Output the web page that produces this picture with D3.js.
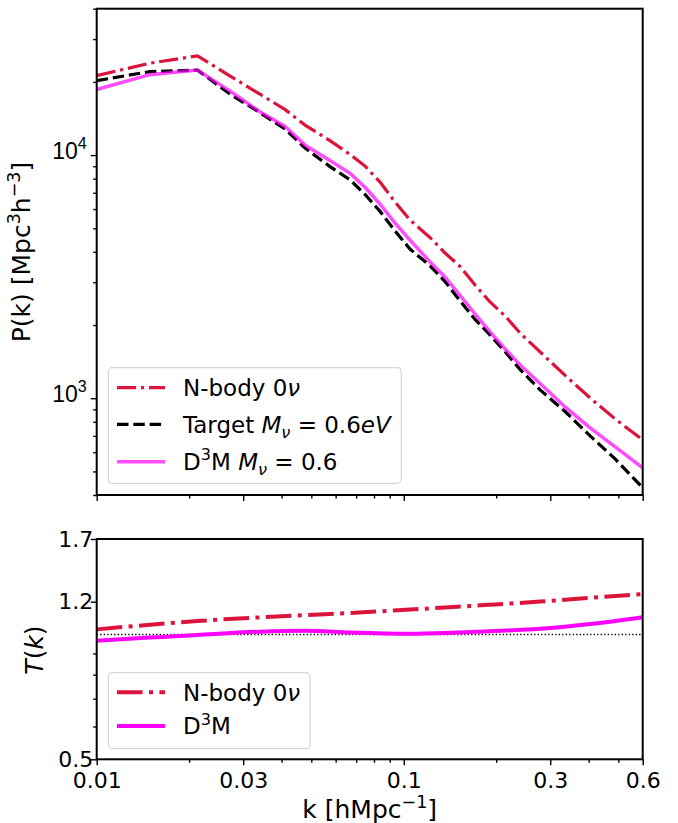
<!DOCTYPE html>
<html>
<head>
<meta charset="utf-8">
<script src="https://cdn.jsdelivr.net/npm/d3@7"></script>
<style>
body { margin: 0; background: #fff; }
svg { display: block; font-family: "DejaVu Sans", sans-serif; }
</style>
</head>
<body>
<div id="chart"></div>
<script>
// power spectrum
var kTop = [0.01, 0.0149, 0.0213, 0.0272, 0.034, 0.0411, 0.0477, 0.0575, 0.0669, 0.0748, 0.0837, 0.0937, 0.1048,
            0.1218, 0.1363, 0.1526, 0.1707, 0.191, 0.2138, 0.2392, 0.278, 0.3353, 0.4045, 0.4879, 0.6];
var pNbody = [21220, 23880, 25590, 21120, 17810, 15380, 13280, 11470, 10050, 9010, 7745, 6410, 5405,
              4580, 3956, 3481, 2921, 2488, 2180, 1855, 1550, 1241, 1003, 822, 674];
var pTarget = [20240, 22040, 22360, 17810, 14950, 12790, 10690, 8970, 7909, 6888, 5870, 4871, 4108,
               3504, 3020, 2512, 2109, 1821, 1553, 1313, 1082, 882, 700, 563, 428];
var pD3M = [18620, 21420, 22360, 18330, 15070, 13100, 10990, 9493, 8410, 7375, 6289, 5254, 4473,
            3634, 3150, 2646, 2221, 1873, 1595, 1371, 1150, 921, 755, 631, 517];

// transfer function
var kBot = [0.01, 0.0149, 0.0213, 0.034, 0.0477, 0.0669, 0.1048, 0.1363, 0.191, 0.278, 0.4045, 0.6];
var tNbody = [1.029, 1.056, 1.078, 1.100, 1.114, 1.127, 1.149, 1.162, 1.180, 1.201, 1.226, 1.252];
var tD3M = [0.966, 0.983, 0.998, 1.016, 1.021, 1.011, 1.004, 1.008, 1.019, 1.032, 1.060, 1.101];

var xMajor = [0.01, 0.03, 0.1, 0.3, 0.6],
    xMinor = [0.02, 0.04, 0.05, 0.06, 0.07, 0.08, 0.09, 0.2, 0.4, 0.5];
var pMajor = [1e3, 1e4],
    pMinor = [400, 500, 600, 700, 800, 900, 2000, 3000, 4000, 5000, 6000, 7000, 8000, 9000, 20000, 30000, 40000];
var tMajor = [0.5, 1.2, 1.7],
    tMinor = [0.6, 0.7, 0.8, 0.9];

var crimson = '#dc143c', magenta = '#ff00ff';
var width = 678, height = 823;
var left = 96.7, right = 642.7;
var topY0 = 8.7, topY1 = 495, botY0 = 539, botY1 = 759.3;
var topTickFs = 23, botTickFs = 22, labelFs = 25, legFs = 23;

var svg = d3.select('#chart').append('svg').attr('width', width).attr('height', height);

var x = d3.scaleLog().domain([0.01, 0.6]).range([left, right]);
var yTop = d3.scaleLog().domain([400, 40000]).range([topY1, topY0]);
var yBot = d3.scaleLog().domain([0.5, 1.7]).range([botY1, botY0]);

// text with super/subscripts and italics
function rich(sel, parts, fs) {
    var shift = 0;
    parts.forEach(function(p) {
        var s = p[1] || '';
        var target = s.indexOf('sup') >= 0 ? -0.42 * fs : (s.indexOf('sub') >= 0 ? 0.22 * fs : 0);
        var t = sel.append('tspan').text(p[0])
            .attr('font-size', (target !== 0 ? 0.7 * fs : fs))
            .attr('font-style', s.indexOf('i') === 0 ? 'italic' : 'normal');
        if (target !== shift) t.attr('dy', target - shift);
        shift = target;
    });
}

function drawAxes(g, yScale, y0, y1, yMaj, yMin, showX, yFmt, fs) {
    var xa = g.append('g').attr('transform', 'translate(0,' + y1 + ')');
    xa.call(d3.axisBottom(x).tickValues(xMinor).tickSize(3.5).tickFormat(''));
    xa.append('g').call(d3.axisBottom(x).tickValues(xMajor).tickSize(6)
        .tickFormat(showX ? function(d) { return String(d); } : ''));
    var ya = g.append('g').attr('transform', 'translate(' + left + ',0)');
    ya.call(d3.axisLeft(yScale).tickValues(yMin).tickSize(3.5).tickFormat(''));
    ya.append('g').attr('class', 'ymaj').call(d3.axisLeft(yScale).tickValues(yMaj).tickSize(6).tickFormat(yFmt));
    g.selectAll('.domain').remove();
    g.selectAll('.tick line').attr('stroke', '#000').attr('stroke-width', 1.4);
    g.selectAll('.tick text').attr('font-size', fs).attr('fill', '#000').attr('font-family', '"DejaVu Sans", sans-serif');
    if (showX) xa.selectAll('.tick text').attr('y', 13).attr('dy', '0.71em');
    g.append('rect').attr('x', left).attr('y', y0).attr('width', right - left).attr('height', y1 - y0)
        .attr('fill', 'none').attr('stroke', '#000').attr('stroke-width', 2);
}

// ---- top panel
var gTop = svg.append('g');
var lineTop = function(vals) {
    return d3.line().x(function(d, i) { return x(kTop[i]); }).y(function(d) { return yTop(d); })(vals);
};
gTop.append('path').attr('d', lineTop(pNbody)).attr('fill', 'none').attr('stroke', crimson)
    .attr('stroke-width', 3.2).attr('stroke-dasharray', '19.2,4.8,3.2,4.8');
gTop.append('path').attr('d', lineTop(pTarget)).attr('fill', 'none').attr('stroke', '#000')
    .attr('stroke-width', 3.2).attr('stroke-dasharray', '11.5,4.8');
gTop.append('path').attr('d', lineTop(pD3M)).attr('fill', 'none').attr('stroke', magenta)
    .attr('stroke-opacity', 0.7).attr('stroke-width', 3.5).attr('stroke-linejoin', 'round');

drawAxes(gTop, yTop, topY0, topY1, pMajor, pMinor, false, '', topTickFs);
gTop.selectAll('.ymaj .tick').each(function(d) {
    var t = d3.select(this).append('text').attr('x', -10).attr('dy', '0.32em')
        .attr('text-anchor', 'end').attr('fill', '#000');
    rich(t, [['10'], [String(Math.round(Math.log10(d))), 'sup']], topTickFs);
});

// y label top
var yl = svg.append('text').attr('transform', 'translate(30,252) rotate(-90)')
    .attr('text-anchor', 'middle').attr('fill', '#000');
rich(yl, [['P(k) [Mpc'], ['3', 'sup'], ['h'], ['\u22123', 'sup'], [']']], labelFs);

function legend(g, x0, y0, w, h, rows) {
    g.append('rect').attr('x', x0).attr('y', y0).attr('width', w).attr('height', h).attr('rx', 4)
        .attr('fill', '#fff').attr('fill-opacity', 0.8).attr('stroke', '#d6d6d6').attr('stroke-width', 1.2);
    rows.forEach(function(r) {
        var ln = g.append('line').attr('x1', 117).attr('x2', 165).attr('y1', r.y).attr('y2', r.y)
            .attr('stroke', r.color).attr('stroke-width', r.w);
        if (r.dash) ln.attr('stroke-dasharray', r.dash);
        if (r.op) ln.attr('stroke-opacity', r.op);
        var t = g.append('text').attr('x', 183).attr('y', r.y + 0.36 * legFs).attr('fill', '#000');
        rich(t, r.text, legFs);
    });
}
legend(svg.append('g'), 108.3, 367.7, 293, 115.6, [
    { y: 387.7, color: crimson, w: 3.2, dash: '19.2,4.8,3.2,4.8', text: [['N-body 0'], ['\u03bd', 'i']] },
    { y: 424.3, color: '#000', w: 3.2, dash: '11.5,4.8',
      text: [['Target '], ['M', 'i'], ['\u03bd', 'isub'], [' = 0.6'], ['eV', 'i']] },
    { y: 461.7, color: magenta, w: 3.5, op: 0.7,
      text: [['D'], ['3', 'sup'], ['M '], ['M', 'i'], ['\u03bd', 'isub'], [' = 0.6']] }
]);

// ---- bottom panel
var gBot = svg.append('g');
var lineBot = function(vals) {
    return d3.line().curve(d3.curveMonotoneX)
        .x(function(d, i) { return x(kBot[i]); }).y(function(d) { return yBot(d); })(vals);
};
gBot.append('line').attr('x1', left).attr('x2', right).attr('y1', yBot(1)).attr('y2', yBot(1))
    .attr('stroke', '#000').attr('stroke-width', 1.3).attr('stroke-dasharray', '1.3,2.2');
gBot.append('path').attr('d', lineBot(tNbody)).attr('fill', 'none').attr('stroke', crimson)
    .attr('stroke-width', 4).attr('stroke-dasharray', '25.6,6.4,4,6.4');
gBot.append('path').attr('d', lineBot(tD3M)).attr('fill', 'none').attr('stroke', magenta)
    .attr('stroke-width', 4);

drawAxes(gBot, yBot, botY0, botY1, tMajor, tMinor, true, function(d) { return String(d); }, botTickFs);
gBot.selectAll('.ymaj .tick text').attr('x', -3.5);

var tl = svg.append('text').attr('transform', 'translate(43,650) rotate(-90)')
    .attr('text-anchor', 'middle').attr('fill', '#000');
rich(tl, [['T', 'i'], ['('], ['k', 'i'], [')']], labelFs);

var xl = svg.append('text').attr('x', (left + right) / 2).attr('y', 818).attr('text-anchor', 'middle').attr('fill', '#000');
rich(xl, [['k [hMpc'], ['\u22121', 'sup'], [']']], labelFs);

legend(svg.append('g'), 108.3, 672.7, 201.7, 76, [
    { y: 692.3, color: crimson, w: 4, dash: '25.6,6.4,4,6.4', text: [['N-body 0'], ['\u03bd', 'i']] },
    { y: 726, color: magenta, w: 4, text: [['D'], ['3', 'sup'], ['M']] }
]);
</script>
</body>
</html>
